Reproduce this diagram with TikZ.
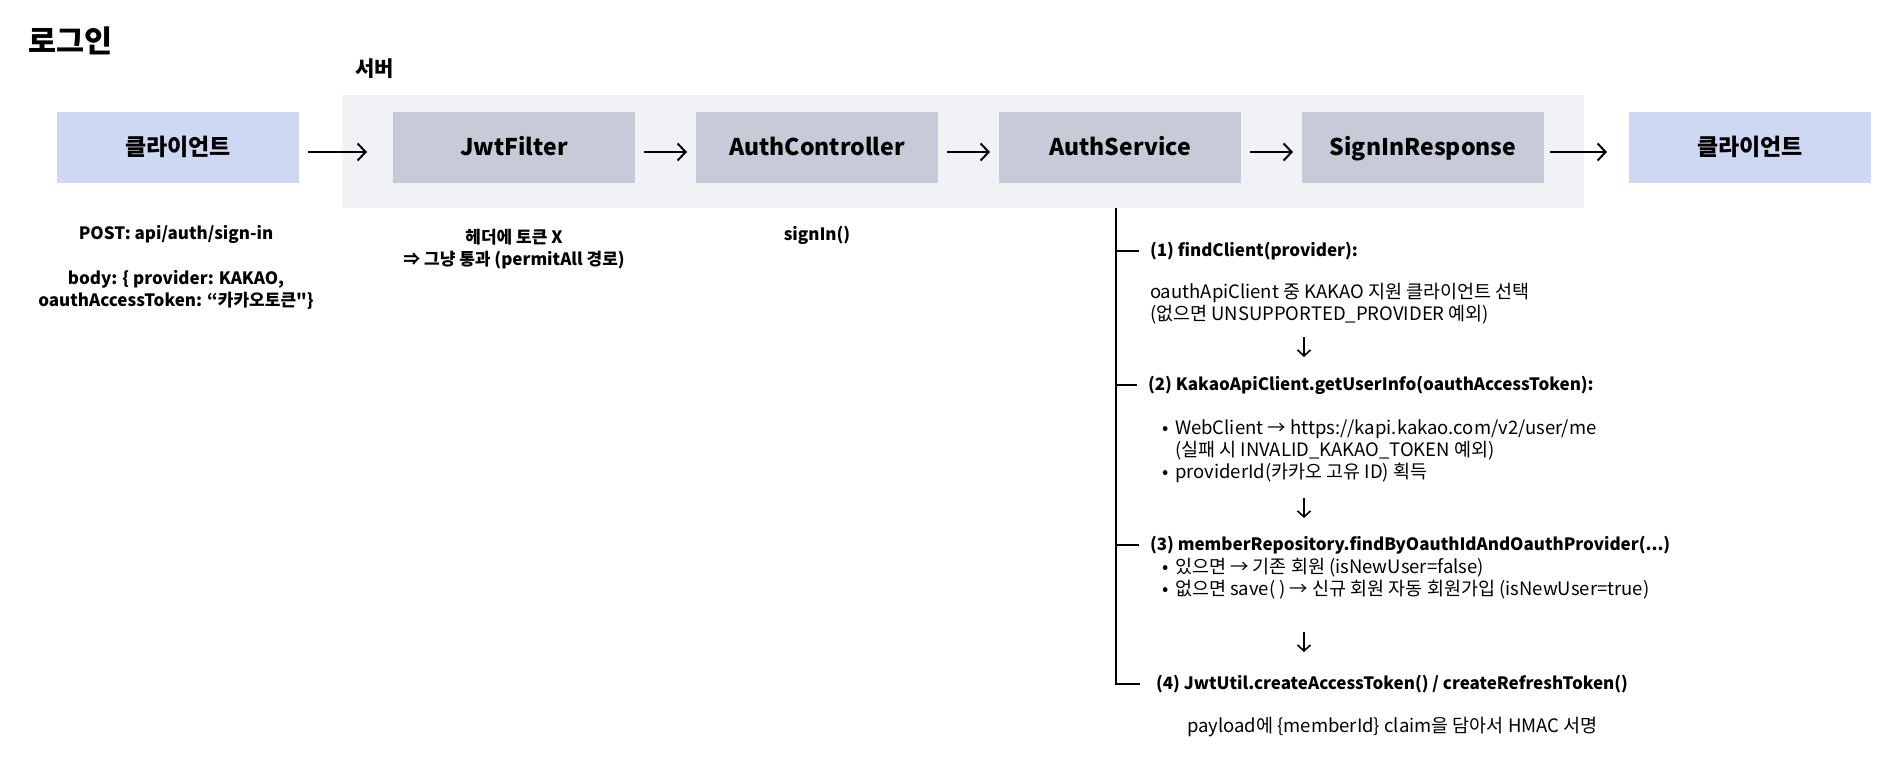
\documentclass[tikz,border=0pt]{standalone}
\usepackage{fontspec}
\setmainfont{Noto Sans CJK KR}
\usetikzlibrary{arrows.meta}

\tikzset{
every picture/.style={
line width=2pt
}}

\definecolor{clientblue}{HTML}{CFD8F3}
\definecolor{svcgray}{HTML}{C7CAD7}
\definecolor{srvbg}{HTML}{F1F2F6}

\newcommand\titlefont{\fontsize{30.5}{34}\selectfont\bfseries}
\newcommand\srvfont{\fontsize{21}{25}\selectfont\bfseries}
\newcommand\boxfont{\fontsize{23}{28}\selectfont\bfseries}
\newcommand\notefont{\fontsize{17}{22}\selectfont\bfseries}
\newcommand\headfont{\fontsize{17}{22}\selectfont\bfseries}
\newcommand\bodyfont{\fontsize{18.5}{22}\selectfont}
\newcommand\bul{\makebox[13pt][l]{•}}
\newcommand\plainquote{{\addfontfeatures{Ligatures=TeXOff}"}}

\begin{document}
\begin{tikzpicture}[x=1pt,y=-1pt,>={Straight Barb[length=8pt,width=17pt]},node distance=303pt,
clbox/.style={fill=clientblue,minimum width=242pt,minimum height=71pt,font=\boxfont,text height=16.5pt,text depth=0pt},
svcbox/.style={fill=svcgray,minimum width=242pt,minimum height=71pt,font=\boxfont,text height=16.5pt,text depth=0pt},
note/.style={font=\notefont,align=center},
head/.style={font=\headfont,anchor=west,inner xsep=10pt},
body/.style={font=\bodyfont,anchor=west,align=left,inner sep=0pt},
flow/.style={->,shorten <=8pt,shorten >=8pt},
down/.style={->,line width=1.6pt,>={Straight Barb[length=6pt,width=13pt]}}]

\useasboundingbox (0,0) rectangle (1900,768);

\node[anchor=west,font=\titlefont] (title) at (24,41) {로그인};
\node[anchor=west,font=\srvfont] (srvlabel) at (351,69) {서버};
\node[fill=srvbg,minimum width=1242pt,minimum height=113pt] (bg) at (962.5,151.5) {};

\node[svcbox] (jwt) at (514,147) {JwtFilter};
\node[svcbox] (ctrl) [right of=jwt] {AuthController};
\node[svcbox] (svc) [right of=ctrl] {AuthService};
\node[svcbox] (resp) [right of=svc] {SignInResponse};
\node[clbox] (cl) [left of=jwt,node distance=336pt] {클라이언트};
\node[clbox] (cr) [right of=resp,node distance=327pt] {클라이언트};

% request flow
\draw[flow,shorten >=25pt] ([yshift=-5pt]cl.east) -- ([yshift=-5pt]jwt.west);
\draw[flow] ([yshift=-5pt]jwt.east) -- ([yshift=-5pt]ctrl.west);
\draw[flow] ([yshift=-5pt]ctrl.east) -- ([yshift=-5pt]svc.west);
\draw[flow] ([yshift=-5pt]svc.east) -- ([yshift=-5pt]resp.west);
\draw[flow,shorten <=5pt,shorten >=21pt] ([yshift=-5pt]resp.east) -- ([yshift=-5pt]cr.west);

\node[note] (req) at (176,234) {POST: api/auth/sign-in};
\node[note] (reqbody) at (176,290) {body: \{ provider: KAKAO,\\oauthAccessToken: “카카오토큰\plainquote\}};
\node[note] (jwtnote) at (514,249) {헤더에 토큰 X\\⇒ 그냥 통과 (permitAll 경로)};
\node[note] (ctrlnote) at (817,235) {signIn()};

% AuthService steps
\coordinate (spine) at (1116,208);
\node[head] (s1) at (1139,251) {(1) findClient(provider):};
\node[body] (s1b) at (1149,304) {oauthApiClient 중 KAKAO 지원 클라이언트 선택\\(없으면 UNSUPPORTED\_PROVIDER 예외)};
\coordinate (d1) at (1304,337);
\node[head] (s2) at (1137,385) {(2) KakaoApiClient.getUserInfo(oauthAccessToken):};
\node[body] (s2b) at (1161,451) {\bul WebClient → https://kapi.kakao.com/v2/user/me\\\hspace*{13pt}(실패 시 INVALID\_KAKAO\_TOKEN 예외)\\\bul providerId(카카오 고유 ID) 획득};
\coordinate (d2) at (1304,498);
\node[head] (s3) at (1139,545) {(3) memberRepository.findByOauthIdAndOauthProvider(...)};
\node[body] (s3b) at (1161,578.5) {\bul 있으면 → 기존 회원 (isNewUser=false)\\\bul 없으면 save( ) → 신규 회원 자동 회원가입 (isNewUser=true)};
\coordinate (d3) at (1304,632);
\node[head,inner xsep=15pt] (s4) at (1140,684) {(4) JwtUtil.createAccessToken() / createRefreshToken()};
\node[body] (s4b) at (1186,727) {payload에 \{memberId\} claim을 담아서 HMAC 서명};

\draw (spine) |- (s4.west);
\foreach \s in {s1,s2,s3}
  \draw (spine |- \s.west) -- (\s.west);
\foreach \d in {d1,d2,d3}
  \draw[down] (\d) -- ++(0,20);
\end{tikzpicture}
\end{document}
